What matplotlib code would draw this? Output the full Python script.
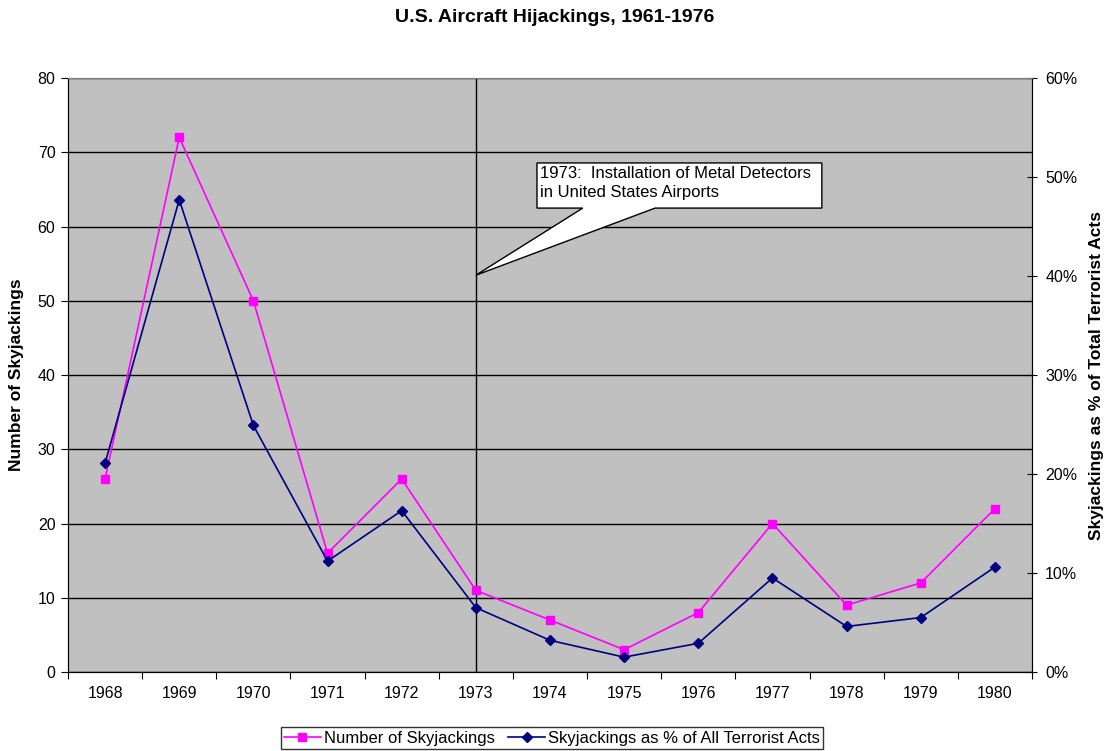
import matplotlib
matplotlib.use("Agg")
import matplotlib.pyplot as plt
from matplotlib.patches import Polygon
from matplotlib.ticker import FuncFormatter, FixedLocator, MultipleLocator
import numpy as np

plt.rcParams['font.family'] = ['Liberation Sans', 'DejaVu Sans']

years = ["1968", "1969", "1970", "1971", "1972", "1973", "1974",
         "1975", "1976", "1977", "1978", "1979", "1980"]
skyjackings = [26, 72, 50, 16, 26, 11, 7, 3, 8, 20, 9, 12, 22]
pct_terrorist = [21.1, 47.7, 24.9, 11.2, 16.3, 6.5, 3.2, 1.5, 2.9, 9.5, 4.6, 5.5, 10.6]

title = "U.S. Aircraft Hijackings, 1961-1976"
left_label = "Number of Skyjackings"
right_label = "Skyjackings as % of Total Terrorist Acts"
series1 = "Number of Skyjackings"
series2 = "Skyjackings as % of All Terrorist Acts"
note = "1973:  Installation of Metal Detectors\nin United States Airports"
event_year = "1973"

fig = plt.figure(figsize=(11.09, 7.51), dpi=100)
ax = fig.add_axes([68/1109, 1-672/751, 964/1109, 594/751])
ax.set_facecolor('#C0C0C0')
x = np.arange(len(years))

ax.set_xlim(-0.5, len(years) - 0.5)
ax.set_ylim(0, 80)
ax.yaxis.set_major_locator(MultipleLocator(10))
ax.grid(axis='y', color='black', lw=1)
ax.set_axisbelow(True)

l1, = ax.plot(x, skyjackings, color='#FF00FF', lw=1.2, marker='s', ms=6,
              markeredgecolor='#FF00FF', zorder=3)

ax.xaxis.set_major_locator(FixedLocator(np.arange(-0.5, len(years), 1.0)))
ax.xaxis.set_minor_locator(FixedLocator(x))
ax.set_xticklabels([''] * len(np.arange(-0.5, len(years), 1.0)))
ax.set_xticklabels(years, minor=True)
ax.tick_params(axis='x', which='major', length=5, direction='out', color='black')
ax.tick_params(axis='x', which='minor', length=0, pad=10, labelsize=11.5)
ax.tick_params(axis='y', length=5, direction='out', labelsize=11.5, pad=4)
ax.set_ylabel(left_label, fontsize=12.5, fontweight='bold', labelpad=10)

for s in ['left', 'bottom', 'right']:
    ax.spines[s].set_color('black')
ax.spines['top'].set_color('#808080')

ax2 = ax.twinx()
ax2.set_ylim(0, 60)
ax2.yaxis.set_major_locator(MultipleLocator(10))
ax2.yaxis.set_major_formatter(FuncFormatter(lambda v, p: f"{v:.0f}%"))
ax2.tick_params(axis='y', length=7, direction='inout', labelsize=11.5, pad=6)
l2, = ax2.plot(x, pct_terrorist, color='#000080', lw=1.2, marker='D', ms=5,
               markeredgecolor='#000080', zorder=3)
ax2.set_ylabel(right_label, fontsize=12.5, fontweight='bold', labelpad=8)
ax2.spines['right'].set_color('black')
ax2.spines['top'].set_color('#808080')

# event line
ev = years.index(event_year)
ax.axvline(ev, color='black', lw=1, zorder=2)

# callout
xt = ax.transData.transform((ev, 0))[0]
tip_x = ax.transAxes.inverted().transform((xt, 0))[0]
bx0, bx1, by0, by1 = 0.4865, 0.782, 0.781, 0.857
w0, w1, tip_y = 0.534, 0.609, 0.668
poly = Polygon([(bx0, by1), (bx1, by1), (bx1, by0), (w1, by0), (tip_x, tip_y),
                (w0, by0), (bx0, by0)], closed=True, transform=ax.transAxes,
               facecolor='white', edgecolor='black', lw=1, zorder=5)
ax2.add_patch(poly)
ax2.text(bx0 + 0.003, by1 - 0.005, note, transform=ax.transAxes, ha='left', va='top',
         fontsize=12, zorder=6, linespacing=1.3)

fig.text(0.5, 1-18/751, title, ha='center', va='center', fontsize=14, fontweight='bold')

leg = fig.legend([l1, l2], [series1, series2], loc='center', ncol=2,
                 bbox_to_anchor=(552/1109, 1-738/751), frameon=True, fontsize=12,
                 fancybox=False, edgecolor='black', handlelength=2.2,
                 handletextpad=0.2, columnspacing=0.8, borderpad=0.2,
                 borderaxespad=0)
leg.get_frame().set_linewidth(1)

fig.savefig('out.png', dpi=100)
